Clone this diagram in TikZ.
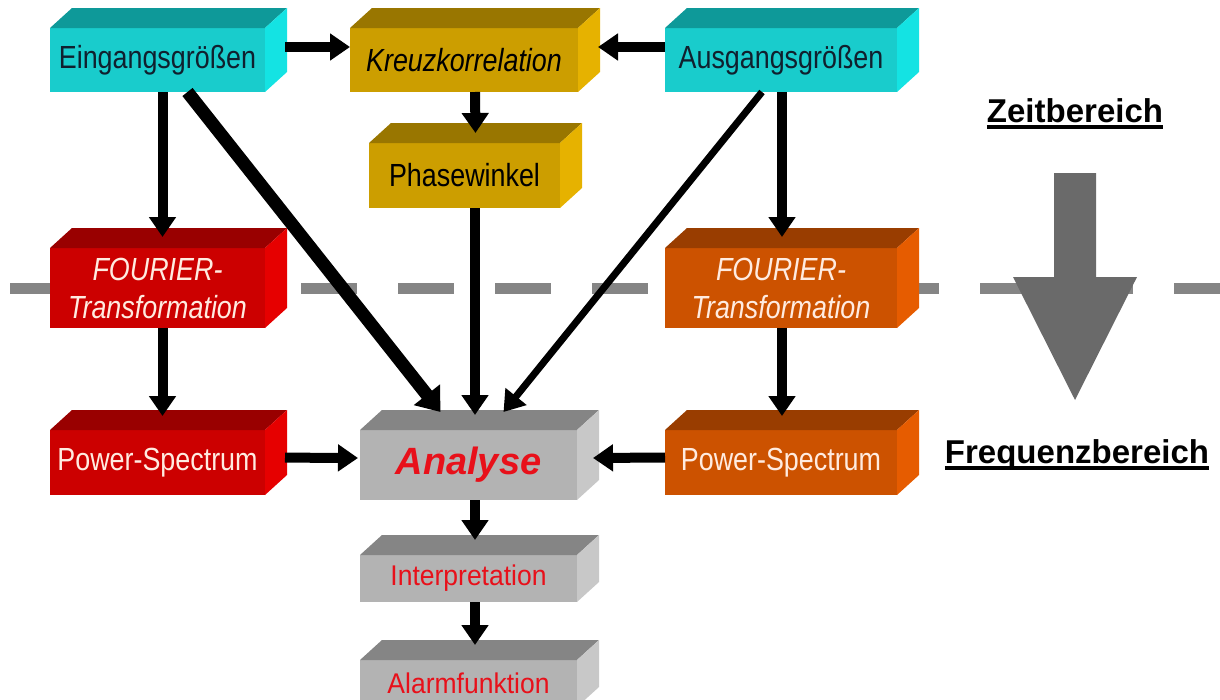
\documentclass[tikz,border=0pt]{standalone}
\usepackage{fontspec}
\setmainfont{Liberation Sans}
\newfontfamily\narrowfont[FakeStretch=0.84]{Liberation Sans}
\newfontfamily\slimfont[FakeStretch=0.93]{Liberation Sans}
\usetikzlibrary{arrows.meta}

\definecolor{cyF}{HTML}{19CCCC}
\definecolor{cyT}{HTML}{0E9999}
\definecolor{cyS}{HTML}{14E3E3}
\definecolor{gdF}{HTML}{CC9E00}
\definecolor{gdT}{HTML}{997600}
\definecolor{gdS}{HTML}{E6B200}
\definecolor{rdF}{HTML}{CC0000}
\definecolor{rdT}{HTML}{990000}
\definecolor{rdS}{HTML}{E60000}
\definecolor{orF}{HTML}{CC5200}
\definecolor{orT}{HTML}{993D00}
\definecolor{orS}{HTML}{E65C00}
\definecolor{grF}{HTML}{B3B3B3}
\definecolor{grT}{HTML}{858585}
\definecolor{grS}{HTML}{C8C8C8}
\definecolor{darktext}{HTML}{10202E}
\definecolor{lighttext}{HTML}{FFEBE0}
\definecolor{alarmred}{HTML}{E8101A}
\definecolor{bigarrow}{HTML}{6A6A6A}
\definecolor{dashgray}{HTML}{858585}

\tikzset{
  block/.style={rectangle, inner sep=0pt, outer sep=0pt, align=center,
    minimum height=64pt, font=\narrowfont\fontsize{32}{38}\selectfont},
  cyanbox/.style={fill=cyF, text=darktext},
  goldbox/.style={fill=gdF, text=black},
  redbox/.style={fill=rdF, text=lighttext},
  orangebox/.style={fill=orF, text=lighttext},
  graybox/.style={fill=grF, text=alarmred},
  conn/.style={line width=10pt, -{Triangle[length=20pt,width=26pt]}},
  domainlabel/.style={inner sep=0pt, anchor=base, font=\bfseries\fontsize{33}{38}\selectfont}
}

\begin{document}
\begin{tikzpicture}[x=1pt, y=-1pt]
\useasboundingbox (0,0) rectangle (1220,699);

% border between time and frequency domain
\draw[dashgray, line width=11pt, dash pattern=on 56pt off 41pt] (10,288) -- (1220,288);

% blocks (front faces)
\node[block, cyanbox, minimum width=215pt] (ein) at (157.5,60) {Eingangsgrößen};
\node[block, goldbox, minimum width=228pt] (kreuz) at (464,60) {\itshape Kreuzkorrelation};
\node[block, cyanbox, minimum width=232pt] (aus) at (781,60) {Ausgangsgrößen};
\node[block, goldbox, minimum width=191pt, minimum height=65pt] (phase) at (464.5,175.5) {Phasewinkel};
\node[block, redbox, minimum width=215pt, minimum height=80pt] (fourL) at (157.5,288) {\itshape FOURIER-\\\itshape Transformation};
\node[block, orangebox, minimum width=232pt, minimum height=80pt] (fourR) at (781,288) {\itshape FOURIER-\\\itshape Transformation};
\node[block, redbox, minimum width=215pt, minimum height=65pt] (psL) at (157.5,462.5) {Power-Spectrum};
\node[block, graybox, minimum width=217pt, minimum height=70pt,
      font=\bfseries\itshape\fontsize{38}{44}\selectfont] (ana) at (468.5,465) {Analyse};
\node[block, orangebox, minimum width=232pt, minimum height=65pt] (psR) at (781,462.5) {Power-Spectrum};
\node[block, graybox, minimum width=217pt, minimum height=47pt,
      font=\slimfont\fontsize{28.5}{34}\selectfont] (interp) at (468.5,578.5) {Interpretation};
\node[block, graybox, minimum width=217pt, minimum height=47pt,
      font=\slimfont\fontsize{28.5}{34}\selectfont] (alarm) at (468.5,683.5) {Alarmfunktion};

% top and side faces
\foreach \n/\t/\s in {ein/cyT/cyS, kreuz/gdT/gdS, aus/cyT/cyS, phase/gdT/gdS,
    fourL/rdT/rdS, fourR/orT/orS, psL/rdT/rdS, ana/grT/grS, psR/orT/orS,
    interp/grT/grS, alarm/grT/grS}
{
  \fill[\t] (\n.north west) -- ([shift={(22pt,20pt)}]\n.north west)
    -- ([shift={(22pt,20pt)}]\n.north east) -- (\n.north east) -- cycle;
  \fill[\s] (\n.north east) -- ([shift={(22pt,20pt)}]\n.north east)
    -- ([shift={(22pt,20pt)}]\n.south east) -- (\n.south east) -- cycle;
}

% connectors
\draw[conn, shorten <=20pt] ([yshift=13pt]ein.east) -- ([yshift=13pt]kreuz.west);
\draw[conn] ([yshift=13pt]aus.west) -- ([xshift=20pt,yshift=13pt]kreuz.east);
\draw[conn] ([xshift=11pt]kreuz.south) -- ([xshift=11pt,yshift=10pt]phase.north);
\draw[conn] ([xshift=5pt]ein.south) -- ([xshift=5pt,yshift=11pt]fourL.north);
\draw[conn] ([xshift=5pt]fourL.south) -- ([xshift=5pt,yshift=14pt]psL.north);
\draw[conn] ([xshift=1pt]aus.south) -- ([xshift=1pt,yshift=11pt]fourR.north);
\draw[conn] ([xshift=1pt]fourR.south) -- ([xshift=1pt,yshift=14pt]psR.north);
\draw[conn, line width=13pt, -{Triangle[length=22pt,width=32pt]}]
  ([xshift=30pt]ein.south) -- ([xshift=-28pt,yshift=18pt]ana.north);
\draw[conn] ([xshift=10.5pt]phase.south) -- ([xshift=6.5pt,yshift=15pt]ana.north);
\draw[conn, line width=7pt] ([xshift=-19pt]aus.south) -- ([xshift=35pt,yshift=18pt]ana.north);
\draw[conn, shorten <=20pt] ([yshift=5pt]psL.east) -- ([xshift=-2pt,yshift=7pt]ana.west);
\draw[conn] ([yshift=5pt]psR.west) -- ([xshift=16pt,yshift=7pt]ana.east);
\draw[conn] ([xshift=6.5pt]ana.south) -- ([xshift=6.5pt,yshift=15pt]interp.north);
\draw[conn] ([xshift=6.5pt]interp.south) -- ([xshift=6.5pt,yshift=15pt]alarm.north);

% time -> frequency
\fill[bigarrow] (1054,173) -- (1096,173) -- (1096,277) -- (1137,277) -- (1075,400)
  -- (1013,277) -- (1054,277) -- cycle;
\node[domainlabel] (zeit) at (1075,122) {Zeitbereich};
\node[domainlabel] (freq) at (1077,463) {Frequenzbereich};
\draw[line width=3.5pt] ([yshift=-5pt]zeit.base west) -- ([yshift=-5pt]zeit.base east);
\draw[line width=3.5pt] ([yshift=-5pt]freq.base west) -- ([yshift=-5pt]freq.base east);
\end{tikzpicture}
\end{document}
